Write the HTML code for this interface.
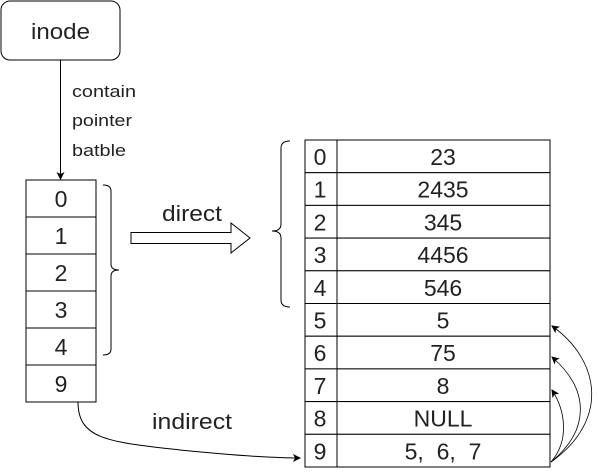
<!DOCTYPE html>
<html><head><meta charset="utf-8"><style>
body{margin:0;background:#fff}
svg text{font-family:"Liberation Sans",Arial,sans-serif;fill:#222}
</style></head><body>
<svg width="598" height="471" viewBox="0 0 598 471">
<defs><marker id="ah" markerWidth="8" markerHeight="8" refX="7" refY="4" orient="auto" markerUnits="userSpaceOnUse"><path d="M0,0 L8,4 L0,8 L2,4z" fill="#000"/></marker></defs>
<g>
<rect x="1" y="1" width="119" height="59" rx="9" fill="#fff" stroke="#000"/>
<text x="31" y="39" font-size="22" textLength="59" lengthAdjust="spacingAndGlyphs">inode</text></g>
<line x1="60.5" y1="60" x2="60.5" y2="179" stroke="#000" marker-end="url(#ah)"/>
<g font-size="17">
<text x="72" y="97" textLength="64" lengthAdjust="spacingAndGlyphs">contain</text>
<text x="72" y="126" textLength="60" lengthAdjust="spacingAndGlyphs">pointer</text>
<text x="72" y="156" textLength="54" lengthAdjust="spacingAndGlyphs">batble</text></g>
<g id="left"></g>
<path d="M103,185 q8,0 8,6 v73 q0,6 8,6 q-8,0 -8,6 v73 q0,6 -8,6" fill="none" stroke="#000"/>
<text x="162" y="221" font-size="22" textLength="60" lengthAdjust="spacingAndGlyphs">direct</text>
<path d="M131,232.5 H231 V223 L250,238 L231,253 V243.5 H131 Z" fill="#fff" stroke="#000"/>
<path d="M290,141 q-9,0 -9,7 v76 q0,7 -9,7 q9,0 9,7 v62 q0,7 9,7" fill="none" stroke="#000"/>
<g id="right"></g>
<path d="M78,402 C78,440 110,442 180,450 C230,455 270,458 300,458" fill="none" stroke="#000" marker-end="url(#ah)"/>
<text x="152" y="429" font-size="22" textLength="80" lengthAdjust="spacingAndGlyphs">indirect</text>
<g fill="none" stroke="#000" stroke-width="0.8">
<path d="M551,462 C610,420 600,360 552,326" marker-end="url(#ah)"/>
<path d="M551,462 C590,430 590,390 552,357" marker-end="url(#ah)"/>
<path d="M551,462 C570,440 565,410 552,390" marker-end="url(#ah)"/>
</g>
</svg>
<script>
const NS="http://www.w3.org/2000/svg";
const leftLabels=["0","1","2","3","4","9"];
const rightIdx=["0","1","2","3","4","5","6","7","8","9"];
const rightVals=["23","2435","345","4456","546","5","75","8","NULL","5,  6,  7"];
function mk(t,a,p){const e=document.createElementNS(NS,t);for(const k in a)e.setAttribute(k,a[k]);p.appendChild(e);return e;}
const L=document.getElementById('left');const lh=37;
leftLabels.forEach((s,i)=>{const y=180+i*lh;
const r=mk('rect',{x:26,y:y,width:70,height:lh,fill:'#fff',stroke:'#000'},L);


const t=mk('text',{x:61,y:y+27,'font-size':23,'text-anchor':'middle'},L);t.textContent=s;

});
const R=document.getElementById('right');const rh=32.7;
rightIdx.forEach((s,i)=>{const y=140+i*rh;
const r=mk('rect',{x:305,y:y,width:245,height:rh,fill:'#fff',stroke:'#000'},R);


mk('line',{x1:337,y1:y,x2:337,y2:y+rh,stroke:'#000'},R);
const a=mk('text',{x:320,y:y+25,'font-size':23,'text-anchor':'middle'},R);a.textContent=s;


const b=mk('text',{x:443,y:y+25,'font-size':23,'text-anchor':'middle'},R);b.textContent=rightVals[i];b.style.whiteSpace='pre';

});
</script>
</body></html>
